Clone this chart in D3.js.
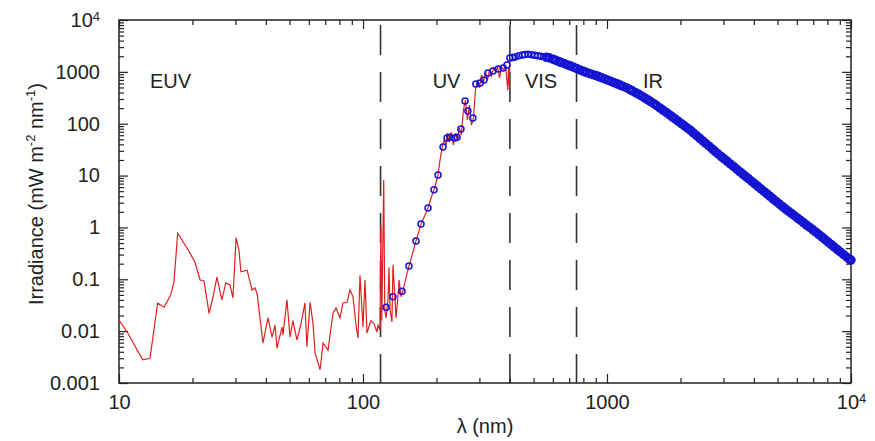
<!DOCTYPE html>
<html>
<head>
<meta charset="utf-8">
<script src="https://cdn.jsdelivr.net/npm/d3@7"></script>
<style>
  body { margin: 0; background: #fff; }
  text { font-family: "Liberation Sans", Arial, Helvetica, sans-serif; fill: #222; }
</style>
</head>
<body>
<div class="vis"></div>
<script>
// Measured spectrum (red line): wavelength in nm, irradiance in mW m-2 nm-1
var redWl = [10, 10.8, 12.5, 13.4, 14.4, 15.3, 16.3, 16.8, 17.4, 19.4, 20.5, 21.5, 22.3, 23.4, 24.3, 25.2,
  26.4, 27.4, 28.5, 29.3, 30.2, 31.0, 31.6, 33.5, 35.1, 36.1, 36.8, 38.9, 40.8, 42.4, 43.6, 44.4, 46.6,
  47.0, 48.8, 50.2, 51.6, 53.6, 55.2, 56.8, 57.8, 58.9, 60.7, 62.4, 63.6, 66.7, 68.6, 71.9, 75.3, 77.5,
  80.5, 82.8, 86.0, 88.4, 91.0, 93.6, 95.4, 97.2, 100, 101.9, 103.8, 107.8, 110.9, 114.1, 115.2,
  117.4, 118.4, 119.4, 121.6, 122.8, 124.3, 126.6, 127.8, 129.1, 131.4, 132.7, 135.3, 136.6, 139.2,
  140.6, 143.2, 145.9, 150, 154.3, 158.8, 164.9, 169.6, 172.9, 179.6, 184.7, 190, 195.4, 199, 203,
  206.9, 210.9, 215, 219.3, 221.4, 225.6, 230, 234.6, 239.1, 243.6, 248.3, 253, 258, 263, 267.9,
  273.1, 278.3, 283.6, 289, 294.6, 300.3, 306, 312, 318, 324, 330, 336, 343, 349, 356, 363, 370,
  377, 384, 392, 395, 397, 400, 405];
var redIrr = [0.0164, 0.0096, 0.0028, 0.0030, 0.035, 0.029, 0.050, 0.089, 0.78, 0.34, 0.21, 0.097, 0.093,
  0.022, 0.046, 0.11, 0.040, 0.085, 0.078, 0.044, 0.63, 0.37, 0.14, 0.15, 0.062, 0.068, 0.054, 0.0059,
  0.018, 0.0077, 0.013, 0.0047, 0.012, 0.0084, 0.040, 0.0077, 0.016, 0.0068, 0.0115, 0.022, 0.035,
  0.0050, 0.036, 0.014, 0.0038, 0.0018, 0.0059, 0.0043, 0.022, 0.028, 0.018, 0.035, 0.036, 0.062,
  0.046, 0.013, 0.0074, 0.12, 0.012, 0.097, 0.0092, 0.016, 0.014, 0.0096, 0.013,
  0.0105, 1.1, 0.016, 8.2, 0.026, 0.018, 0.040, 0.17, 0.026, 0.015, 0.19, 0.040, 0.018, 0.050,
  0.097, 0.046, 0.062, 0.106, 0.18, 0.29, 0.55, 0.85, 1.16, 1.74, 2.37, 3.7, 5.3, 7.2, 10.3,
  20, 34, 48.5, 39, 66, 44, 69, 39, 66, 48.5, 83, 61, 184, 286, 118,
  230, 94, 129, 447, 697, 489, 869, 637, 1000, 697, 1087, 831, 1187, 1000, 1241, 762, 1241,
  1087, 1298, 447, 1187, 558, 1549, 1750];

// Reference spectrum (blue circles)
var blueWl = [124.3, 132.7, 144.5, 154.3, 164.9, 172.9, 184.7, 195.4, 203, 212.8, 221, 227, 238, 243,
  252, 262, 269, 282, 290, 302, 313, 325, 341, 358, 375, 389, 400,
  410, 420, 435, 450, 460, 475, 490, 505, 520, 535, 550, 565, 580, 600, 615, 635, 650, 670, 690, 710,
  730, 750, 775, 800, 820, 845, 870, 900, 925, 950, 980, 1010, 1040, 1070, 1100, 1130, 1160, 1200,
  1240, 1270, 1310, 1350, 1390, 1430, 1470, 1510, 1560, 1600, 1650, 1700, 1750, 1800, 1850, 1900,
  1960, 2020, 2080, 2140, 2200, 2260, 2330, 2400, 2470, 2540, 2620, 2700, 2770, 2850, 2940, 3020,
  3110, 3200, 3300, 3400, 3500, 3600, 3700, 3800, 3920, 4030, 4150, 4270, 4400, 4530, 4660, 4800,
  4940, 5080, 5230, 5380, 5540, 5700, 5870, 6040, 6220, 6400, 6590, 6780, 6980, 7180, 7390, 7610,
  7830, 8060, 8300, 8540, 8790, 9050, 9310, 9590, 9870, 10000];
var blueIrr = [0.029, 0.046, 0.059, 0.18, 0.55, 1.16, 2.37, 5.3, 10.3, 35.6, 53, 55, 53, 55,
  79, 274, 176, 129, 583, 609, 697, 950, 1040, 1136, 1187, 1355, 1850,
  1892, 1934, 2035, 2116, 2163, 2192, 2139, 2093, 2051, 2009, 1957, 1909, 1863, 1758, 1678, 1580,
  1514, 1433, 1359, 1290, 1227, 1163, 1091, 1024, 980, 934, 893, 847, 811, 774, 730, 690, 653, 619,
  587, 556, 529, 495, 457, 430, 397, 368, 340, 313, 289, 267, 242, 222, 200, 181, 165, 149, 136,
  124, 111, 100, 90.3, 81.8, 74.1, 66.5, 58.9, 52.3, 46.6, 41.7, 36.8, 32.6, 29.4, 26.3, 23.3,
  21.0, 18.8, 16.8, 15.0, 13.3, 11.9, 10.7, 9.64, 8.70, 7.71, 6.93, 6.19, 5.55, 4.94, 4.42, 3.96,
  3.53, 3.16, 2.84, 2.54, 2.29, 2.06, 1.86, 1.68, 1.51, 1.36, 1.23, 1.10, 1.00, 0.898, 0.811,
  0.729, 0.651, 0.584, 0.523, 0.467, 0.419, 0.375, 0.336, 0.301, 0.269, 0.243, 0.235];

// Band boundaries (nm) and band labels
var boundaries = [118, 400, 750];
var bandNames = ["EUV", "UV", "VIS", "IR"];
var bandLabelWl = [13.4, 193, 461, 1404];
var bandLabelIrr = 490;

var xMajor = [10, 100, 1000, 10000];
var yMajor = [0.001, 0.01, 0.1, 1, 10, 100, 1000, 10000];

var width = 875, height = 441;
var margin = {top: 20, right: 24, bottom: 58, left: 119};

var svg = d3.select(".vis")
  .append("svg")
  .attr("width", width)
  .attr("height", height);

var x = d3.scaleLog().domain([10, 1e4]).range([margin.left, width - margin.right]);
var y = d3.scaleLog().domain([1e-3, 1e4]).range([height - margin.bottom, margin.top]);

var xMinor = x.ticks().filter(function(d) { return xMajor.indexOf(d) < 0; });
var yMinor = y.ticks().filter(function(d) { return yMajor.indexOf(d) < 0; });

function plainFmt(d) { return d >= 10000 ? "" : String(d); }

var y0 = height - margin.bottom, x1 = width - margin.right;

// Dashed band boundaries, drawn as separate dash segments
var dashStarts = d3.range(margin.top + 5, y0, 47);
boundaries.forEach(function(b) {
  svg.append("g").attr("class", "band-line")
    .selectAll("line")
    .data(dashStarts)
    .enter()
    .append("line")
      .attr("x1", x(b))
      .attr("x2", x(b))
      .attr("y1", function(d) { return d; })
      .attr("y2", function(d) { return Math.min(d + 30, y0); })
      .style("stroke", "#333")
      .style("stroke-width", 1.6);
});

// Axes (inward ticks)
function styleAxis(g) {
  g.select(".domain").remove();
  g.selectAll(".tick line").style("stroke", "#222").style("stroke-width", 1.2);
  g.selectAll("text").style("font-size", "20px").style("fill", "#222")
    .style("font-family", '"Liberation Sans", Arial, Helvetica, sans-serif');
}

svg.append("g").attr("class", "labelled").attr("transform", "translate(0," + y0 + ")")
  .call(d3.axisBottom(x).tickValues(xMajor).tickSizeInner(-9).tickSizeOuter(0).tickPadding(12).tickFormat(plainFmt))
  .call(styleAxis);
svg.append("g").attr("transform", "translate(0," + y0 + ")")
  .call(d3.axisBottom(x).tickValues(xMinor).tickSizeInner(-5).tickSizeOuter(0).tickFormat(""))
  .call(styleAxis);
svg.append("g").attr("transform", "translate(0," + margin.top + ")")
  .call(d3.axisTop(x).tickValues(xMajor).tickSizeInner(-9).tickSizeOuter(0).tickFormat(""))
  .call(styleAxis);
svg.append("g").attr("transform", "translate(0," + margin.top + ")")
  .call(d3.axisTop(x).tickValues(xMinor).tickSizeInner(-5).tickSizeOuter(0).tickFormat(""))
  .call(styleAxis);

svg.append("g").attr("class", "labelled").attr("transform", "translate(" + margin.left + ",0)")
  .call(d3.axisLeft(y).tickValues(yMajor).tickSizeInner(-9).tickSizeOuter(0).tickPadding(19).tickFormat(plainFmt))
  .call(styleAxis);
svg.append("g").attr("transform", "translate(" + margin.left + ",0)")
  .call(d3.axisLeft(y).tickValues(yMinor).tickSizeInner(-5).tickSizeOuter(0).tickFormat(""))
  .call(styleAxis);
svg.append("g").attr("transform", "translate(" + x1 + ",0)")
  .call(d3.axisRight(y).tickValues(yMajor).tickSizeInner(-9).tickSizeOuter(0).tickFormat(""))
  .call(styleAxis);
svg.append("g").attr("transform", "translate(" + x1 + ",0)")
  .call(d3.axisRight(y).tickValues(yMinor).tickSizeInner(-5).tickSizeOuter(0).tickFormat(""))
  .call(styleAxis);

// 10^4 labels with superscript
svg.selectAll(".labelled .tick text").filter(function(d) { return d === 10000; })
  .each(function() {
    var t = d3.select(this);
    t.append("tspan").text("10");
    t.append("tspan").attr("dy", "-0.45em").style("font-size", "13px").text("4");
  });

// Frame
svg.append("rect")
  .attr("x", margin.left)
  .attr("y", margin.top)
  .attr("width", x1 - margin.left)
  .attr("height", y0 - margin.top)
  .style("fill", "none")
  .style("stroke", "#222")
  .style("stroke-width", 1.5);

// Red measured spectrum
var redData = redWl.map(function(d, i) { return [d, redIrr[i]]; });
svg.append("path")
  .datum(redData)
  .attr("d", d3.line()
    .x(function(d) { return x(d[0]); })
    .y(function(d) { return y(d[1]); }))
  .style("fill", "none")
  .style("stroke", "#e02020")
  .style("stroke-width", 1.2);

// Blue circles (dense in the IR, where they merge into a thick band)
var blueData = blueWl.map(function(d, i) { return [d, blueIrr[i]]; });
svg.selectAll(".pt")
  .data(blueData)
  .enter()
  .append("circle")
    .attr("class", "pt")
    .attr("cx", function(d) { return x(d[0]); })
    .attr("cy", function(d) { return y(d[1]); })
    .attr("r", function(d) { return d[0] > 560 ? 3.3 : 3; })
    .style("fill", "none")
    .style("stroke", "#1414d2")
    .style("stroke-width", function(d) { return d[0] > 560 ? 2.9 : 1.5; });

// Band labels
svg.selectAll(".band-label")
  .data(bandNames)
  .enter()
  .append("text")
    .attr("x", function(d, i) { return x(bandLabelWl[i]); })
    .attr("y", y(bandLabelIrr))
    .style("font-size", "20px")
    .text(function(d) { return d; });

// Axis titles
svg.append("text")
  .attr("x", (margin.left + x1) / 2)
  .attr("y", 433)
  .attr("text-anchor", "middle")
  .style("font-size", "20px")
  .text("\u03bb (nm)");

var yt = svg.append("text")
  .attr("transform", "translate(43,194) rotate(-90)")
  .attr("text-anchor", "middle")
  .style("font-size", "20px");
yt.append("tspan").text("Irradiance (mW m");
yt.append("tspan").attr("dy", -8).style("font-size", "13px").text("-2");
yt.append("tspan").attr("dy", 8).text(" nm");
yt.append("tspan").attr("dy", -8).style("font-size", "13px").text("-1");
yt.append("tspan").attr("dy", 8).text(")");
</script>
</body>
</html>
